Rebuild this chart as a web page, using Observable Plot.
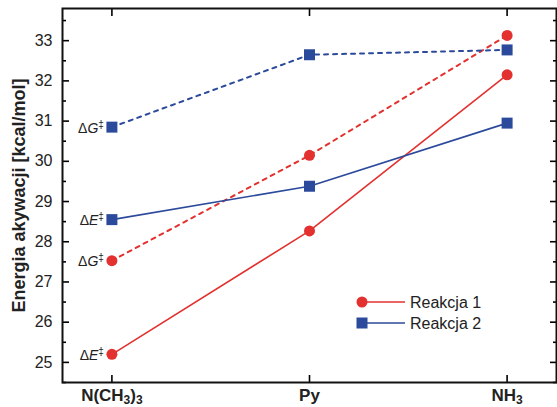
<!DOCTYPE html>
<html>
<head>
<meta charset="utf-8">
<script src="https://cdn.jsdelivr.net/npm/d3@7"></script>
<script src="https://cdn.jsdelivr.net/npm/@observablehq/plot@0.6"></script>
<style>
  html, body { margin: 0; padding: 0; background: #fff; }
  #wrap { position: relative; width: 557px; height: 407px; overflow: hidden; font-family: "Liberation Sans", Arial, sans-serif; }
  #legend { position: absolute; left: 352px; top: 292px; }
</style>
</head>
<body>
<div id="wrap"></div>
<script>
// Categories (x positions are indices 0,1,2)
const categories = ["N(CH₃)₃", "Py", "NH₃"];
// Series values [kcal/mol]
const r1E = [25.2, 28.27, 32.15];
const r1G = [27.53, 30.15, 33.13];
const r2E = [28.55, 29.38, 30.95];
const r2G = [30.85, 32.65, 32.77];
const seriesNames = ["Reakcja 1", "Reakcja 2"];
const yTicks = [25, 26, 27, 28, 29, 30, 31, 32, 33];
const yMinorTicks = [24.5, 25.5, 26.5, 27.5, 28.5, 29.5, 30.5, 31.5, 32.5, 33.5];
const startLabels = ["ΔE‡", "ΔG‡", "ΔE‡", "ΔG‡"];

const RED = "#e2312f";
const BLUE = "#2c4a9b";

function rows(vals, series, kind) {
  return vals.map((v, i) => ({x: i, y: v, series, kind}));
}
const d1E = rows(r1E, seriesNames[0], "E");
const d1G = rows(r1G, seriesNames[0], "G");
const d2E = rows(r2E, seriesNames[1], "E");
const d2G = rows(r2G, seriesNames[1], "G");
const firsts = [d1E[0], d1G[0], d2E[0], d2G[0]].map((d, i) => ({...d, label: startLabels[i]}));

const xIdx = categories.map((c, i) => i);

const plot = Plot.plot({
  width: 557,
  height: 407,
  marginLeft: 62,
  marginRight: 1,
  marginTop: 8,
  marginBottom: 25,
  style: {fontFamily: "'Liberation Sans', Arial, sans-serif", background: "#fff"},
  x: {domain: [-0.25, 2.25], axis: null},
  y: {domain: [24.5, 33.8], axis: null},
  marks: [
    Plot.lineY(d1G, {x: "x", y: "y", stroke: RED, strokeWidth: 2, strokeDasharray: "4,5"}),
    Plot.lineY(d2G, {x: "x", y: "y", stroke: BLUE, strokeWidth: 2, strokeDasharray: "4,5"}),
    Plot.lineY(d1E, {x: "x", y: "y", stroke: RED, strokeWidth: 1.6}),
    Plot.lineY(d2E, {x: "x", y: "y", stroke: BLUE, strokeWidth: 1.6}),
    Plot.dot([...d1E, ...d1G], {x: "x", y: "y", r: 5.5, fill: RED, stroke: "none"}),
    Plot.dot([...d2E, ...d2G], {x: "x", y: "y", r: 6.2, symbol: "square", fill: BLUE, stroke: "none"}),
    Plot.text(firsts, {x: "x", y: "y", text: "label", textAnchor: "end", dx: -8, dy: 1, fontSize: 14, fill: "#222", className: "dlabel"}),
    // y axis labels
    Plot.axisY(yTicks, {anchor: "left", tickSize: 0, tickPadding: 10, fontSize: 16, fill: "#222",
      label: "Energia akywacji [kcal/mol]", labelAnchor: "center", labelArrow: "none", labelOffset: 50}),
    // inward major/minor ticks left & right
    Plot.axisY(yTicks, {anchor: "left", tickSize: -7, strokeWidth: 1.6, text: null, label: null}),
    Plot.axisY(yMinorTicks, {anchor: "left", tickSize: -4, strokeWidth: 1.6, text: null, label: null}),
    Plot.axisY(yTicks, {anchor: "right", tickSize: -7, strokeWidth: 1.6, text: null, label: null}),
    Plot.axisY(yMinorTicks, {anchor: "right", tickSize: -4, strokeWidth: 1.6, text: null, label: null}),
    // x axis
    Plot.axisX(xIdx, {anchor: "bottom", tickSize: -7, strokeWidth: 1.6, text: null, label: null}),
    Plot.axisX(xIdx, {anchor: "top", tickSize: -7, strokeWidth: 1.6, text: null, label: null}),
    Plot.axisX(xIdx, {anchor: "bottom", tickSize: 0, tickPadding: 6, tickFormat: i => categories[i], fontSize: 17, fontWeight: "bold", fill: "#222", label: null, className: "xlab"}),
    Plot.frame({stroke: "#111", strokeWidth: 2})
  ]
});

document.getElementById("wrap").appendChild(plot);

// style y-axis title
d3.select(plot).selectAll("text").each(function() {
  const t = d3.select(this);
  if (t.text() === "Energia akywacji [kcal/mol]") {
    t.attr("font-weight", "bold").attr("font-size", 18).attr("fill", "#222");
  }
});

// real subscripts in x tick labels
const subMap = {"₃": "3"};
d3.select(plot).selectAll(".xlab text").each(function() {
  const t = d3.select(this);
  const s = t.text();
  t.text(null);
  // split into runs of normal / subscript characters
  const runs = [];
  for (const ch of s) {
    const isSub = ch in subMap;
    const c = isSub ? subMap[ch] : ch;
    if (runs.length && runs[runs.length - 1].sub === isSub) runs[runs.length - 1].text += c;
    else runs.push({text: c, sub: isSub});
  }
  let offset = 0;
  for (const r of runs) {
    const sp = t.append("tspan").text(r.text);
    if (r.sub) { sp.attr("font-size", 12).attr("dy", 3 - offset); offset = 3; }
    else { sp.attr("dy", -offset); offset = 0; }
  }
});

// format ΔE‡ / ΔG‡ labels with italic letter and superscript double dagger
d3.select(plot).selectAll(".dlabel text").each(function() {
  const t = d3.select(this);
  const s = t.text();
  t.text(null);
  t.append("tspan").text(s[0]);
  t.append("tspan").attr("font-style", "italic").text(s[1]);
  t.append("tspan").attr("font-size", 10).attr("dy", "-0.5em").text(s[2]);
});

// legend
const lg = d3.select("#wrap").append("svg").attr("id", "legend").attr("width", 150).attr("height", 50)
  .style("font-family", "'Liberation Sans', Arial, sans-serif");
const legendItems = [{name: seriesNames[0], color: RED, sym: "circle"}, {name: seriesNames[1], color: BLUE, sym: "square"}];
legendItems.forEach((it, i) => {
  const cy = 10 + i * 21;
  lg.append("line").attr("x1", 10).attr("x2", 53).attr("y1", cy).attr("y2", cy).attr("stroke", it.color).attr("stroke-width", 1.6);
  if (it.sym === "circle") lg.append("circle").attr("cx", 10).attr("cy", cy).attr("r", 5.5).attr("fill", it.color);
  else lg.append("rect").attr("x", 4.5).attr("y", cy - 5.5).attr("width", 11).attr("height", 11).attr("fill", it.color);
  lg.append("text").attr("x", 58).attr("y", cy + 5.5).attr("font-size", 16).attr("fill", "#222").text(it.name);
});
</script>
</body>
</html>
